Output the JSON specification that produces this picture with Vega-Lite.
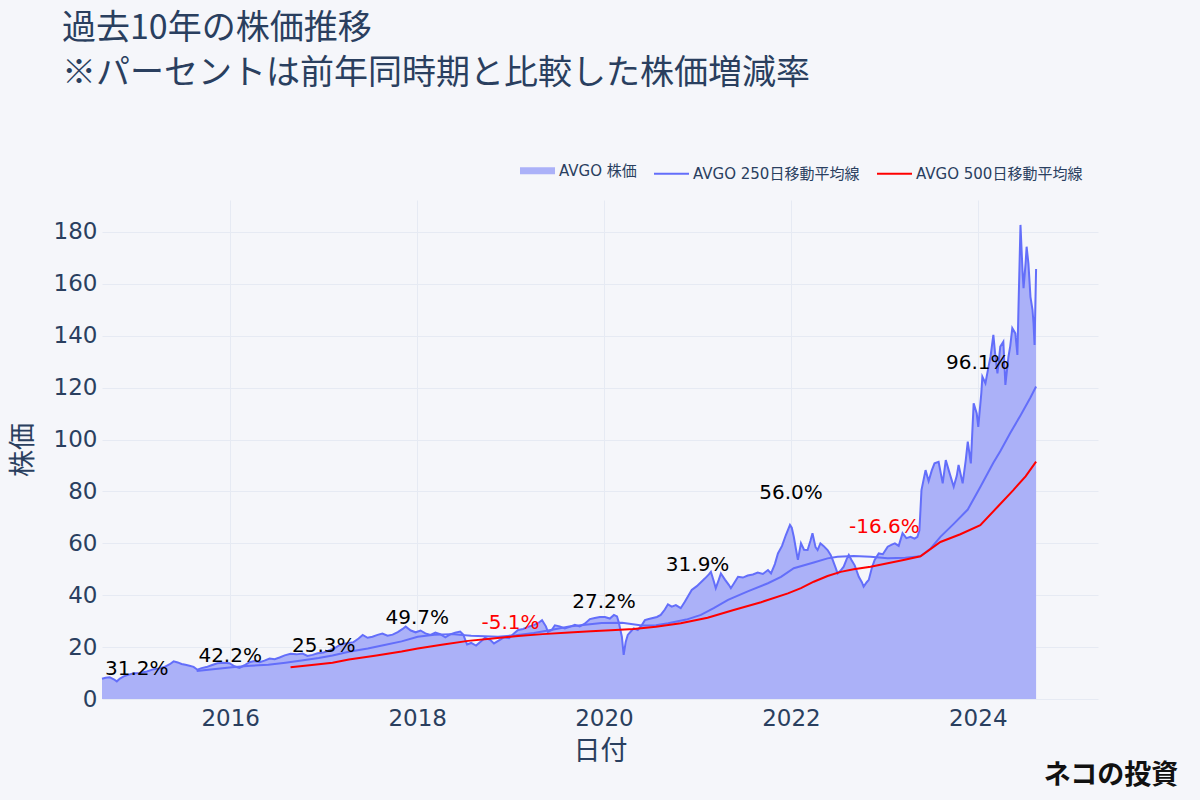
{
  "$schema": "https://vega.github.io/schema/vega-lite/v6.json",
  "width": 996,
  "height": 499,
  "autosize": {"type": "none"},
  "padding": {"left": 102, "top": 200, "right": 102, "bottom": 101},
  "background": "#f5f6fa",
  "config": {
    "view": {"stroke": null},
    "font": "DejaVu Sans, Noto Sans CJK JP",
    "axis": {"gridColor": "#e6eaf3", "gridWidth": 1, "domain": false, "ticks": false, "labelColor": "#2a3f5f", "titleColor": "#2a3f5f", "labelFont": "DejaVu Sans", "labelFontSize": 23, "titleFont": "Noto Sans CJK JP", "titleFontSize": 27, "titleFontWeight": "normal"}
  },
  "title": {
    "text": ["過去10年の株価推移", "※パーセントは前年同時期と比較した株価増減率"],
    "anchor": "start",
    "frame": "group",
    "dx": -40,
    "offset": 72,
    "font": "Noto Sans CJK JP",
    "fontSize": 34,
    "fontWeight": "normal",
    "color": "#2a3f5f",
    "lineHeight": 45
  },
  "datasets": {
    "price": [
      {"d":"2014-08-18","v":7.8},{"d":"2014-09-01","v":8.2},{"d":"2014-09-17","v":8.4},{"d":"2014-10-03","v":7.6},{"d":"2014-10-15","v":6.8},{"d":"2014-10-27","v":7.9},{"d":"2014-11-11","v":8.7},{"d":"2014-12-01","v":9.4},{"d":"2014-12-20","v":9.9},
      {"d":"2015-01-12","v":10.0},{"d":"2015-02-09","v":10.6},{"d":"2015-03-08","v":11.5},{"d":"2015-03-31","v":11.8},{"d":"2015-04-20","v":12.4},{"d":"2015-05-10","v":13.4},{"d":"2015-05-25","v":14.5},{"d":"2015-06-10","v":14.1},{"d":"2015-06-25","v":13.5},{"d":"2015-07-10","v":13.2},{"d":"2015-07-26","v":12.8},{"d":"2015-08-11","v":12.4},{"d":"2015-08-26","v":11.3},{"d":"2015-09-11","v":11.9},{"d":"2015-09-30","v":12.3},{"d":"2015-10-20","v":13.0},{"d":"2015-11-12","v":13.8},{"d":"2015-12-06","v":14.0},{"d":"2015-12-29","v":13.8},
      {"d":"2016-01-18","v":12.6},{"d":"2016-02-06","v":12.0},{"d":"2016-02-26","v":13.0},{"d":"2016-03-16","v":14.2},{"d":"2016-04-05","v":14.6},{"d":"2016-04-25","v":14.2},{"d":"2016-05-14","v":14.8},{"d":"2016-06-03","v":15.6},{"d":"2016-06-23","v":15.3},{"d":"2016-07-12","v":16.0},{"d":"2016-08-01","v":16.8},{"d":"2016-08-24","v":17.4},{"d":"2016-09-16","v":17.2},{"d":"2016-10-10","v":17.5},{"d":"2016-10-29","v":16.6},{"d":"2016-11-18","v":17.0},{"d":"2016-12-08","v":17.6},{"d":"2016-12-31","v":17.9},
      {"d":"2017-01-24","v":18.8},{"d":"2017-02-16","v":19.8},{"d":"2017-03-11","v":21.2},{"d":"2017-04-04","v":21.5},{"d":"2017-04-27","v":21.9},{"d":"2017-05-17","v":23.3},{"d":"2017-06-02","v":24.7},{"d":"2017-06-21","v":23.6},{"d":"2017-07-10","v":24.0},{"d":"2017-07-30","v":24.7},{"d":"2017-08-18","v":25.2},{"d":"2017-09-07","v":24.4},{"d":"2017-09-27","v":24.8},{"d":"2017-10-17","v":25.8},{"d":"2017-11-05","v":27.0},{"d":"2017-11-17","v":27.9},{"d":"2017-12-07","v":26.4},{"d":"2017-12-26","v":25.7},
      {"d":"2018-01-14","v":26.4},{"d":"2018-02-02","v":25.3},{"d":"2018-02-22","v":24.7},{"d":"2018-03-13","v":25.6},{"d":"2018-04-01","v":25.0},{"d":"2018-04-21","v":23.8},{"d":"2018-05-10","v":24.9},{"d":"2018-05-29","v":25.5},{"d":"2018-06-18","v":26.0},{"d":"2018-06-30","v":24.8},{"d":"2018-07-15","v":21.0},{"d":"2018-07-31","v":21.6},{"d":"2018-08-19","v":20.6},{"d":"2018-09-08","v":22.3},{"d":"2018-09-23","v":23.6},{"d":"2018-10-13","v":22.8},{"d":"2018-10-28","v":21.4},{"d":"2018-11-17","v":22.6},{"d":"2018-12-07","v":23.8},{"d":"2018-12-26","v":23.4},
      {"d":"2019-01-11","v":25.0},{"d":"2019-01-30","v":26.6},{"d":"2019-02-19","v":27.0},{"d":"2019-03-10","v":27.8},{"d":"2019-03-30","v":28.4},{"d":"2019-04-18","v":29.2},{"d":"2019-05-04","v":30.4},{"d":"2019-05-19","v":28.0},{"d":"2019-05-27","v":25.9},{"d":"2019-06-11","v":26.6},{"d":"2019-06-23","v":28.4},{"d":"2019-07-12","v":28.0},{"d":"2019-08-01","v":27.2},{"d":"2019-08-20","v":27.8},{"d":"2019-09-09","v":28.6},{"d":"2019-09-28","v":28.0},{"d":"2019-10-18","v":29.0},{"d":"2019-11-07","v":30.8},{"d":"2019-11-26","v":31.2},{"d":"2019-12-16","v":31.6},
      {"d":"2020-01-05","v":31.6},{"d":"2020-01-24","v":31.0},{"d":"2020-02-09","v":32.4},{"d":"2020-02-21","v":31.8},{"d":"2020-02-28","v":29.5},{"d":"2020-03-11","v":24.0},{"d":"2020-03-18","v":17.0},{"d":"2020-03-26","v":22.0},{"d":"2020-04-03","v":24.7},{"d":"2020-04-15","v":26.0},{"d":"2020-04-26","v":27.2},{"d":"2020-05-12","v":26.6},{"d":"2020-05-28","v":28.5},{"d":"2020-06-09","v":30.4},{"d":"2020-06-24","v":30.8},{"d":"2020-07-10","v":31.2},{"d":"2020-07-26","v":31.6},{"d":"2020-08-10","v":32.4},{"d":"2020-08-26","v":34.5},{"d":"2020-09-07","v":36.5},{"d":"2020-09-22","v":35.6},{"d":"2020-10-08","v":36.2},{"d":"2020-10-27","v":35.0},{"d":"2020-11-12","v":37.5},{"d":"2020-11-28","v":40.2},{"d":"2020-12-09","v":42.0},{"d":"2020-12-29","v":43.5},
      {"d":"2021-01-14","v":45.0},{"d":"2021-01-30","v":46.5},{"d":"2021-02-14","v":48.0},{"d":"2021-02-22","v":49.0},{"d":"2021-03-05","v":45.5},{"d":"2021-03-13","v":42.7},{"d":"2021-03-25","v":46.0},{"d":"2021-04-02","v":48.4},{"d":"2021-04-18","v":46.0},{"d":"2021-05-03","v":44.0},{"d":"2021-05-11","v":42.7},{"d":"2021-05-27","v":45.2},{"d":"2021-06-08","v":47.1},{"d":"2021-06-27","v":46.8},{"d":"2021-07-16","v":47.6},{"d":"2021-08-05","v":48.0},{"d":"2021-08-24","v":48.7},{"d":"2021-09-13","v":48.2},{"d":"2021-10-03","v":49.7},{"d":"2021-10-15","v":48.4},{"d":"2021-10-30","v":52.0},{"d":"2021-11-11","v":56.1},{"d":"2021-11-27","v":59.0},{"d":"2021-12-12","v":63.2},{"d":"2021-12-28","v":67.1},
      {"d":"2022-01-04","v":66.0},{"d":"2022-01-12","v":62.5},{"d":"2022-01-20","v":58.0},{"d":"2022-01-28","v":53.6},{"d":"2022-02-09","v":60.0},{"d":"2022-02-21","v":57.5},{"d":"2022-03-07","v":57.4},{"d":"2022-03-18","v":61.0},{"d":"2022-03-26","v":63.9},{"d":"2022-04-07","v":58.5},{"d":"2022-04-15","v":57.4},{"d":"2022-04-26","v":60.0},{"d":"2022-05-08","v":59.0},{"d":"2022-05-24","v":57.4},{"d":"2022-06-05","v":55.5},{"d":"2022-06-13","v":53.6},{"d":"2022-06-25","v":50.4},{"d":"2022-07-02","v":48.4},{"d":"2022-07-14","v":49.5},{"d":"2022-07-26","v":51.0},{"d":"2022-08-07","v":54.0},{"d":"2022-08-15","v":55.5},{"d":"2022-08-26","v":53.5},{"d":"2022-09-07","v":51.5},{"d":"2022-09-23","v":47.1},{"d":"2022-10-05","v":45.0},{"d":"2022-10-12","v":43.3},{"d":"2022-10-24","v":45.0},{"d":"2022-11-01","v":45.9},{"d":"2022-11-13","v":50.5},{"d":"2022-11-24","v":53.6},{"d":"2022-12-10","v":56.1},{"d":"2022-12-26","v":55.8},
      {"d":"2023-01-14","v":58.7},{"d":"2023-01-30","v":59.5},{"d":"2023-02-11","v":60.0},{"d":"2023-02-26","v":59.0},{"d":"2023-03-13","v":63.9},{"d":"2023-03-28","v":62.0},{"d":"2023-04-13","v":62.5},{"d":"2023-04-29","v":61.8},{"d":"2023-05-10","v":62.5},{"d":"2023-05-18","v":65.0},{"d":"2023-05-26","v":80.5},{"d":"2023-06-11","v":88.2},{"d":"2023-06-23","v":84.0},{"d":"2023-07-05","v":88.0},{"d":"2023-07-16","v":90.8},{"d":"2023-08-01","v":91.4},{"d":"2023-08-17","v":83.1},{"d":"2023-08-29","v":92.1},{"d":"2023-09-10","v":88.0},{"d":"2023-09-17","v":85.7},{"d":"2023-09-29","v":81.8},{"d":"2023-10-11","v":86.0},{"d":"2023-10-18","v":90.2},{"d":"2023-11-03","v":83.1},{"d":"2023-11-15","v":92.0},{"d":"2023-11-23","v":99.2},{"d":"2023-12-05","v":90.8},{"d":"2023-12-16","v":114.0},{"d":"2023-12-28","v":110.0},
      {"d":"2024-01-03","v":104.9},{"d":"2024-01-15","v":118.0},{"d":"2024-01-19","v":124.2},{"d":"2024-01-31","v":121.7},{"d":"2024-02-12","v":128.0},{"d":"2024-02-20","v":132.0},{"d":"2024-03-02","v":140.3},{"d":"2024-03-10","v":132.0},{"d":"2024-03-18","v":125.5},{"d":"2024-03-29","v":135.8},{"d":"2024-04-10","v":137.7},{"d":"2024-04-18","v":121.0},{"d":"2024-04-30","v":131.9},{"d":"2024-05-07","v":136.0},{"d":"2024-05-15","v":142.9},{"d":"2024-05-27","v":140.9},{"d":"2024-06-04","v":132.6},{"d":"2024-06-08","v":150.0},{"d":"2024-06-16","v":182.7},{"d":"2024-06-24","v":165.0},{"d":"2024-06-28","v":158.3},{"d":"2024-07-06","v":168.0},{"d":"2024-07-10","v":174.3},{"d":"2024-07-17","v":167.9},{"d":"2024-07-25","v":155.0},{"d":"2024-08-02","v":150.0},{"d":"2024-08-06","v":144.8},{"d":"2024-08-10","v":136.4},{"d":"2024-08-16","v":165.72}
    ],
    "ma250": [
      {"d":"2015-08-23","v":10.8},{"d":"2015-11-04","v":11.6},{"d":"2016-01-18","v":12.3},{"d":"2016-03-21","v":12.8},{"d":"2016-05-29","v":13.2},{"d":"2016-08-04","v":14.0},{"d":"2016-10-06","v":14.8},{"d":"2016-12-12","v":15.8},{"d":"2017-02-04","v":16.8},{"d":"2017-04-09","v":18.2},{"d":"2017-06-22","v":19.5},{"d":"2017-08-26","v":20.8},{"d":"2017-11-01","v":22.2},{"d":"2018-01-03","v":24.0},{"d":"2018-03-09","v":24.8},{"d":"2018-05-14","v":25.0},{"d":"2018-07-31","v":24.4},{"d":"2018-11-13","v":24.0},{"d":"2019-01-22","v":24.6},{"d":"2019-04-02","v":25.4},{"d":"2019-06-07","v":26.6},{"d":"2019-08-18","v":27.9},{"d":"2019-10-20","v":28.6},{"d":"2019-12-23","v":29.3},{"d":"2020-03-12","v":29.4},{"d":"2020-05-28","v":28.3},{"d":"2020-07-22","v":28.4},{"d":"2020-09-08","v":29.2},{"d":"2020-11-18","v":30.6},{"d":"2021-01-14","v":32.4},{"d":"2021-03-05","v":35.0},{"d":"2021-04-30","v":38.2},{"d":"2021-07-16","v":41.5},{"d":"2021-10-03","v":44.6},{"d":"2021-11-23","v":47.1},{"d":"2022-01-12","v":50.4},{"d":"2022-03-31","v":52.6},{"d":"2022-05-24","v":54.2},{"d":"2022-07-02","v":54.8},{"d":"2022-09-03","v":55.1},{"d":"2022-11-08","v":54.8},{"d":"2023-01-14","v":54.2},{"d":"2023-03-24","v":54.4},{"d":"2023-05-22","v":55.0},{"d":"2023-07-01","v":58.0},{"d":"2023-08-08","v":62.5},{"d":"2023-09-29","v":67.5},{"d":"2023-11-23","v":73.0},{"d":"2024-01-11","v":81.7},{"d":"2024-03-02","v":91.0},{"d":"2024-03-29","v":95.5},{"d":"2024-05-07","v":102.5},{"d":"2024-06-16","v":109.3},{"d":"2024-07-25","v":116.2},{"d":"2024-08-16","v":120.4}
    ],
    "ma500": [
      {"d":"2016-08-24","v":12.2},{"d":"2016-11-15","v":13.1},{"d":"2017-02-04","v":14.0},{"d":"2017-04-09","v":15.2},{"d":"2017-07-26","v":16.8},{"d":"2017-11-01","v":18.3},{"d":"2018-01-03","v":19.5},{"d":"2018-04-13","v":21.0},{"d":"2018-07-19","v":22.4},{"d":"2018-10-23","v":23.3},{"d":"2019-01-30","v":24.3},{"d":"2019-05-07","v":25.0},{"d":"2019-08-18","v":25.6},{"d":"2019-11-11","v":26.1},{"d":"2020-01-28","v":26.5},{"d":"2020-04-26","v":27.0},{"d":"2020-07-22","v":27.8},{"d":"2020-10-27","v":29.2},{"d":"2021-02-09","v":31.3},{"d":"2021-05-22","v":34.3},{"d":"2021-09-06","v":37.3},{"d":"2021-12-20","v":40.7},{"d":"2022-02-09","v":42.7},{"d":"2022-03-31","v":45.2},{"d":"2022-05-24","v":47.4},{"d":"2022-07-14","v":49.0},{"d":"2022-09-03","v":50.0},{"d":"2022-11-08","v":51.0},{"d":"2023-01-14","v":52.3},{"d":"2023-03-17","v":53.6},{"d":"2023-05-22","v":55.0},{"d":"2023-08-08","v":60.5},{"d":"2023-10-25","v":63.5},{"d":"2024-01-11","v":67.0},{"d":"2024-03-18","v":74.0},{"d":"2024-05-19","v":80.5},{"d":"2024-07-06","v":85.8},{"d":"2024-08-16","v":91.5}
    ],
    "ann": [
      {"d":"2015-01-01","v":11.6,"t":"31.2%","p":31.2},
      {"d":"2016-01-01","v":16.7,"t":"42.2%","p":42.2},
      {"d":"2017-01-01","v":20.5,"t":"25.3%","p":25.3},
      {"d":"2018-01-01","v":31.1,"t":"49.7%","p":49.7},
      {"d":"2019-01-01","v":29.2,"t":"-5.1%","p":-5.1},
      {"d":"2020-01-01","v":37.2,"t":"27.2%","p":27.2},
      {"d":"2021-01-01","v":51.6,"t":"31.9%","p":31.9},
      {"d":"2022-01-01","v":79.4,"t":"56.0%","p":56.0},
      {"d":"2023-01-01","v":66.1,"t":"-16.6%","p":-16.6},
      {"d":"2024-01-01","v":129.4,"t":"96.1%","p":96.1}
    ],
    "logo": [{"t": "ネコの投資"}]
  },
  "layer": [
    {
      "data": {"name": "price"},
      "mark": {"type": "area", "fillOpacity": 1},
      "encoding": {
        "x": {
          "field": "d", "type": "temporal", "title": "日付",
          "scale": {"type": "utc", "domain": [{"year": 2014, "month": 8, "date": 18, "utc": true}, {"year": 2025, "month": 4, "date": 15, "utc": true}]},
          "axis": {"values": [{"year": 2016, "utc": true}, {"year": 2018, "utc": true}, {"year": 2020, "utc": true}, {"year": 2022, "utc": true}, {"year": 2024, "utc": true}], "format": "%Y", "formatType": "utc", "labelPadding": 8, "titlePadding": 8, "labelFlush": false}
        },
        "y": {
          "field": "v", "type": "quantitative", "title": "株価",
          "scale": {"domain": [0, 192.3], "nice": false, "zero": true},
          "axis": {"values": [0, 20, 40, 60, 80, 100, 120, 140, 160, 180], "labelPadding": 5, "titlePadding": 16}
        },
        "color": {
          "datum": "AVGO 株価", "type": "nominal",
          "scale": {"domain": ["AVGO 株価", "AVGO 250日移動平均線", "AVGO 500日移動平均線"], "range": ["#abb1f8", "#636efa", "#ff0000"]},
          "legend": {
            "orient": "none", "legendX": 428, "legendY": -37, "direction": "horizontal", "title": null,
            "symbolType": "stroke", "symbolSize": 1225, "symbolStrokeWidth": 2,
            "labelFont": "DejaVu Sans, Noto Sans CJK JP", "labelFontSize": 15, "labelColor": "#2a3f5f", "labelOffset": 14, "columnPadding": 13,
            "labelLimit": 400,
            "encode": {"symbols": {"update": {"strokeWidth": {"signal": "datum.value === 'AVGO 株価' ? 7 : 2"}, "opacity": {"value": 1}}}}
          }
        }
      }
    },
    {
      "data": {"name": "price"},
      "mark": {"type": "line", "color": "#636efa", "strokeWidth": 2},
      "encoding": {"x": {"field": "d", "type": "temporal"}, "y": {"field": "v", "type": "quantitative"}}
    },
    {
      "data": {"name": "ma250"},
      "mark": {"type": "line", "strokeWidth": 2},
      "encoding": {"x": {"field": "d", "type": "temporal"}, "y": {"field": "v", "type": "quantitative"}, "color": {"datum": "AVGO 250日移動平均線", "type": "nominal"}}
    },
    {
      "data": {"name": "ma500"},
      "mark": {"type": "line", "strokeWidth": 2},
      "encoding": {"x": {"field": "d", "type": "temporal"}, "y": {"field": "v", "type": "quantitative"}, "color": {"datum": "AVGO 500日移動平均線", "type": "nominal"}}
    },
    {
      "data": {"name": "ann"},
      "transform": [{"filter": "datum.p >= 0"}],
      "mark": {"type": "text", "font": "DejaVu Sans", "fontSize": 20, "color": "#000000", "baseline": "middle", "align": "center"},
      "encoding": {"x": {"field": "d", "type": "temporal"}, "y": {"field": "v", "type": "quantitative"}, "text": {"field": "t"}}
    },
    {
      "data": {"name": "ann"},
      "transform": [{"filter": "datum.p < 0"}],
      "mark": {"type": "text", "font": "DejaVu Sans", "fontSize": 20, "color": "#ff0000", "baseline": "middle", "align": "center"},
      "encoding": {"x": {"field": "d", "type": "temporal"}, "y": {"field": "v", "type": "quantitative"}, "text": {"field": "t"}}
    },
    {
      "data": {"name": "price"},
      "transform": [{"filter": "datum.d == '2024-08-16'"}],
      "mark": {"type": "text", "font": "DejaVu Sans", "fontSize": 14, "color": "#636efa", "align": "left", "baseline": "middle", "dx": 12},
      "encoding": {"x": {"field": "d", "type": "temporal"}, "y": {"field": "v", "type": "quantitative"}, "text": {"field": "v", "format": ".2f"}}
    },
    {
      "data": {"name": "logo"},
      "mark": {"type": "text", "font": "Noto Sans CJK JP", "fontSize": 27, "fontWeight": "bold", "color": "#111111", "align": "center", "baseline": "middle", "clip": false},
      "encoding": {
        "x": {"datum": {"year": 2025, "month": 6, "date": 5, "utc": true}, "type": "temporal"},
        "y": {"datum": -29.8, "type": "quantitative"},
        "text": {"field": "t"}
      }
    }
  ]
}
